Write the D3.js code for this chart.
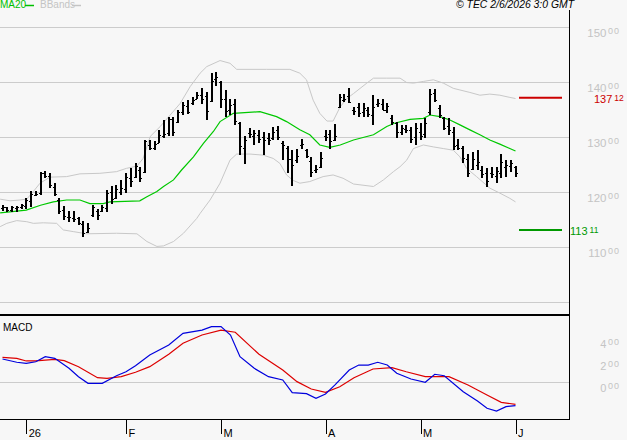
<!DOCTYPE html>
<html>
<head>
<meta charset="utf-8">
<script src="https://cdn.jsdelivr.net/npm/d3@7"></script>
<style>
  html, body { margin: 0; padding: 0; background: #f7f7f7; }
  svg { display: block; font-family: "Liberation Sans", Arial, sans-serif; }
</style>
</head>
<body>
<svg id="chart" width="627" height="440"></svg>
<script>
// ─── Data ─────────────────────────────────────────
// daily bars, 23 Dec 2025 .. 1 Jun 2026 (index = trading day)
const opens = [
  117.0, 117.2, 116.8, 117.0, 117.2, 117.5, 118.4, 119.5, 119.8, 123.5,
  123.0, 121.0, 118.6, 116.8, 115.4, 115.2, 115.2, 114.2, 112.8, 115.8,
  116.6, 116.5, 117.0, 120.0, 119.0, 120.0, 120.5, 122.5, 122.8, 124.0,
  123.6, 128.6, 128.0, 129.0, 130.2, 130.8, 133.2, 132.8, 134.5, 135.6,
  136.2, 137.0, 137.6, 137.5, 136.5, 140.5, 140.0, 137.0, 135.0, 136.0,
  132.5, 128.0, 130.8, 130.2, 130.4, 130.0, 129.8, 129.8, 131.2, 129.0,
  128.0, 126.0, 125.8, 128.5, 127.6, 125.6, 124.0, 124.6, 130.2, 130.5,
  129.5, 135.5, 136.8, 137.5, 135.0, 135.5, 134.5, 135.0, 134.0, 136.0,
  136.0, 135.0, 133.5, 132.5, 131.0, 131.5, 131.2, 130.0, 131.0, 130.5,
  134.5, 138.0, 135.2, 133.4, 132.0, 131.0, 128.5, 128.0, 126.0, 124.2,
  125.0, 124.0, 123.5, 123.5, 123.0, 123.5, 124.5, 124.8, 124.5
];
const highs = [
  117.6, 117.3, 117.5, 117.5, 117.9, 118.9, 120.1, 120.2, 123.7, 123.9,
  123.5, 121.7, 118.9, 117.5, 116.6, 116.6, 115.5, 114.7, 114.4, 117.6,
  117.0, 117.6, 120.4, 121.1, 121.3, 122.1, 123.4, 124.3, 125.3, 124.6,
  129.5, 129.5, 129.2, 131.3, 133.1, 133.7, 133.7, 135.0, 136.4, 136.7,
  137.2, 138.2, 139.0, 138.2, 141.6, 141.9, 140.2, 138.6, 137.0, 137.0,
  132.8, 130.1, 131.6, 131.2, 131.2, 131.0, 130.8, 131.8, 132.0, 129.2,
  128.4, 127.6, 127.8, 129.6, 127.9, 126.4, 124.9, 127.2, 131.2, 131.3,
  132.4, 137.8, 137.8, 139.0, 135.4, 136.2, 136.1, 135.5, 137.6, 136.9,
  136.9, 136.2, 134.0, 132.8, 132.2, 132.2, 131.8, 132.5, 132.5, 133.4,
  138.7, 138.7, 135.8, 133.7, 133.4, 131.9, 129.6, 128.4, 127.0, 127.2,
  127.6, 124.7, 124.3, 124.6, 124.6, 127.0, 125.9, 125.8, 124.7
];
const lows = [
  116.6, 116.4, 116.4, 116.4, 116.9, 117.0, 117.3, 119.2, 119.5, 122.5,
  120.7, 119.2, 116.0, 114.9, 114.6, 114.5, 114.0, 111.8, 112.5, 115.5,
  115.0, 116.4, 116.4, 117.9, 118.7, 119.5, 119.8, 121.0, 122.5, 121.9,
  123.4, 127.6, 127.6, 128.9, 129.8, 130.1, 130.2, 132.6, 134.0, 134.2,
  135.9, 136.9, 136.0, 133.1, 136.4, 139.2, 135.2, 133.7, 134.0, 132.2,
  126.7, 125.1, 129.9, 128.6, 128.9, 126.7, 128.6, 129.5, 129.5, 125.8,
  123.4, 121.1, 125.3, 127.9, 126.1, 122.8, 123.5, 124.3, 129.3, 127.9,
  129.2, 135.2, 136.4, 136.1, 134.0, 133.7, 133.7, 133.7, 132.2, 135.5,
  134.9, 134.3, 132.2, 129.9, 130.4, 130.7, 129.0, 128.5, 129.5, 129.8,
  134.0, 136.4, 133.4, 131.3, 130.4, 127.6, 127.6, 125.2, 122.8, 124.0,
  124.0, 122.5, 121.0, 122.5, 121.6, 122.5, 122.7, 123.7, 122.7
];
const closes = [
  117.3, 116.8, 117.2, 117.3, 117.6, 118.6, 119.6, 119.6, 123.4, 123.0,
  121.2, 119.6, 116.5, 115.6, 115.4, 115.0, 114.3, 112.6, 113.4, 117.2,
  115.8, 117.2, 119.9, 118.8, 120.5, 120.8, 122.8, 122.0, 124.8, 122.6,
  129.2, 128.0, 128.8, 130.4, 130.6, 133.2, 131.0, 134.6, 135.8, 134.6,
  136.8, 137.6, 137.0, 134.8, 140.2, 141.0, 137.0, 134.8, 135.8, 133.0,
  128.4, 129.5, 130.5, 130.8, 129.6, 129.4, 129.4, 131.0, 130.0, 128.5,
  126.0, 125.0, 126.6, 128.8, 126.6, 123.6, 124.2, 126.2, 130.0, 129.3,
  130.2, 137.2, 137.0, 136.4, 134.8, 134.4, 135.3, 134.2, 135.5, 136.2,
  135.0, 135.6, 132.8, 131.0, 131.6, 131.2, 129.6, 131.6, 130.2, 132.5,
  137.8, 136.8, 134.0, 131.6, 131.2, 128.4, 128.0, 126.2, 123.5, 126.0,
  125.4, 123.2, 122.0, 123.2, 123.8, 125.5, 125.0, 125.2, 123.5
];

// indicator traces: [day index, value]
const ma20 = [
  [-0.5, 116.2], [5, 116.7], [8, 117.6], [10.7, 118.2], [13.5, 118.55], [16.3, 118.55],
  [18.4, 117.9], [21.2, 117.9], [22.6, 118.2], [28.9, 118.4], [30.4, 119.15], [32.5, 120.1],
  [33.9, 121.0], [36, 122.2], [37.7, 124.0], [40.2, 126.4], [42.3, 128.85], [44.4, 131.0],
  [45.8, 132.8], [48.6, 134.3], [54.2, 134.6], [57.7, 133.7], [59.8, 132.8], [62.6, 131.3],
  [64.7, 130.4], [66.8, 128.55], [68.9, 128.1], [71.1, 128.55], [73.9, 129.45], [78.1, 130.4],
  [80.9, 131.9], [82.5, 132.5], [85.8, 133.2], [88.6, 133.4], [90, 134.0], [92.1, 133.7],
  [94.2, 133.1], [96.3, 132.2], [98.4, 131.3], [100.5, 130.4], [102.6, 129.45], [104.7, 128.7],
  [106.8, 127.9], [108, 127.45]
];
const bbUpper = [
  [-0.5, 118.7], [1.6, 118.4], [3.7, 118.55], [5.1, 118.7], [6.5, 120.1], [7.9, 121.6],
  [10, 122.7], [13.5, 122.8], [16.3, 123.3], [20.5, 123.4], [24, 123.7], [26.1, 124.3],
  [28.3, 124.7], [29.6, 126.1], [31.1, 130.1], [33.2, 131.9], [35.3, 134.0], [37.4, 136.1],
  [39.5, 139.15], [41.6, 141.6], [43, 142.8], [45.8, 143.9], [47.9, 143.4], [49.3, 142.3],
  [55.6, 142.3], [60.5, 142.3], [62.6, 141.6], [64, 140.4], [65.4, 136.7], [66.8, 134.3],
  [68.3, 132.9], [69.6, 132.9], [71.1, 135.5], [72.5, 137.0], [73.9, 137.9], [76.7, 139.8],
  [78.1, 140.7], [80.9, 140.7], [83.7, 140.7], [85.1, 139.9], [86.5, 139.8], [88.6, 140.1],
  [90.7, 140.4], [92.8, 139.8], [94.9, 138.85], [96.3, 138.55], [98.4, 138.1], [100.5, 137.6],
  [102.6, 137.8], [104.7, 137.6], [106.8, 137.2], [108, 137.0]
];
const bbLower = [
  [-0.5, 113.7], [0.9, 114.3], [3, 114.8], [5.1, 114.6], [6.5, 114.3], [8.6, 114.4],
  [11.4, 114.3], [12.8, 113.1], [14.9, 112.8], [17.7, 112.4], [24, 112.5], [28.3, 112.4],
  [30.4, 111.0], [32.5, 110.1], [33.9, 110.2], [36, 111.0], [38.1, 112.5], [40.9, 115.2],
  [41.6, 116.1], [43.7, 118.55], [45.8, 121.6], [47.9, 125.8], [49.3, 126.9], [52.1, 126.9],
  [54.9, 126.7], [57, 126.1], [58.4, 125.2], [59.8, 123.1], [61.2, 122.1], [62.6, 121.6],
  [64.7, 121.9], [67.5, 122.8], [69.6, 123.1], [71.7, 122.5], [73.9, 121.45], [78.1, 121.0],
  [80.2, 122.2], [82.3, 123.7], [83.7, 124.6], [85.1, 125.8], [86.5, 127.9], [88.6, 128.55],
  [90.7, 128.2], [92.8, 127.9], [94.9, 127.6], [96.3, 126.4], [97.7, 124.3], [99.8, 122.8],
  [102.6, 120.7], [104.7, 119.8], [106.8, 118.85], [108, 118.2]
];
const macdLine = [
  [0, 2.12], [3, 1.82], [5, 1.73], [7, 1.87], [9, 2.33], [11, 2.18], [14, 1.27], [16, 0.51],
  [18, -0.09], [21, -0.09], [24, 0.60], [26, 0.96], [28, 1.51], [31, 2.48], [35, 3.39],
  [38, 4.45], [42, 4.75], [44, 5.06], [46, 5.06], [48, 4.30], [50, 2.33], [53, 1.27],
  [56, 0.51], [59, 0.21], [61, -0.94], [64, -1.03], [66, -1.46], [68, -1.06], [70, -0.24],
  [73, 1.12], [75, 1.57], [77, 1.57], [79, 1.82], [81, 1.57], [83, 0.82], [86, 0.30],
  [89, 0.0], [91, 0.73], [93, 0.60], [97, -0.85], [100, -1.70], [102, -2.36], [104, -2.61],
  [106, -2.21], [108, -2.12]
];
const macdSignal = [
  [0, 2.27], [3, 2.18], [5, 1.94], [7, 1.94], [11, 2.09], [13, 1.97], [16, 1.42], [20, 0.42],
  [22, 0.36], [25, 0.51], [28, 0.91], [31, 1.42], [35, 2.55], [38, 3.55], [42, 4.30],
  [46, 4.75], [49, 4.55], [54, 2.55], [59, 1.12], [62, 0.06], [65, -0.61], [68, -0.91],
  [71, -0.40], [74, 0.42], [78, 1.21], [82, 1.33], [85, 0.96], [89, 0.51], [91, 0.51],
  [94, 0.51], [98, -0.24], [102, -1.15], [105, -1.82], [108, -2.0]
];

const monthTicks = [5, 26, 46, 68, 88, 108];
const monthLabels = ['26', 'F', 'M', 'A', 'M', 'J'];
const priceGrid = [100, 110, 120, 130, 140, 150];
const priceLabels = [110, 120, 130, 140, 150];
const macdLabels = [0, 2, 4];
const resistance = 137.12;
const support = 113.11;

// ─── Layout ───────────────────────────────────────
const right = 569;
const svg = d3.select('#chart');

const x = d3.scaleLinear().domain([0, 108]).range([2.5, 515.5]);
const y = d3.scaleLinear().domain([100, 150]).range([302, 27]);
const ym = d3.scaleLinear().domain([0, 4]).range([382.3, 338.3]);

// "150.00" -> ['150', '00'], decimals drawn small and raised
function splitNum(v) {
  return v.toFixed(2).split('.');
}

// ─── Main panel ───────────────────────────────────
const grid = svg.append('g').attr('shape-rendering', 'crispEdges');
grid.selectAll('line').data(priceGrid).join('line')
  .attr('x1', 0).attr('x2', right)
  .attr('y1', d => Math.round(y(d)) + 0.5).attr('y2', d => Math.round(y(d)) + 0.5)
  .attr('stroke', '#cccccc');

priceLabels.forEach(function (v) {
  const p = splitNum(v);
  const t = svg.append('text')
    .attr('x', 620).attr('y', y(v) + 9.8)
    .attr('text-anchor', 'end')
    .attr('fill', '#c4c4c4');
  t.append('tspan').style('font-size', '11.5px').text(p[0]);
  t.append('tspan').attr('dy', -2.6).attr('dx', 1.5)
    .style('font-size', '9px').style('letter-spacing', '1px').text(p[1]);
});

const line = d3.line().x(d => x(d[0])).y(d => y(d[1]));

svg.append('path').datum(bbUpper).attr('d', line)
  .attr('fill', 'none').attr('stroke', '#c8c8c8').attr('stroke-width', 1);
svg.append('path').datum(bbLower).attr('d', line)
  .attr('fill', 'none').attr('stroke', '#c8c8c8').attr('stroke-width', 1);
svg.append('path').datum(ma20).attr('d', line)
  .attr('fill', 'none').attr('stroke', '#00c800').attr('stroke-width', 1.2);

// OHLC bars: left tick = open, right tick = close
const bars = svg.append('g').attr('stroke', '#000').attr('shape-rendering', 'crispEdges');
d3.range(closes.length).forEach(function (i) {
  const cx = Math.round(x(i));
  bars.append('line')
    .attr('x1', cx).attr('x2', cx)
    .attr('y1', y(highs[i])).attr('y2', y(lows[i]))
    .attr('stroke-width', 1.5);
  bars.append('line')
    .attr('x1', cx - 2).attr('x2', cx)
    .attr('y1', Math.round(y(opens[i]))).attr('y2', Math.round(y(opens[i])));
  bars.append('line')
    .attr('x1', cx).attr('x2', cx + 2)
    .attr('y1', Math.round(y(closes[i]))).attr('y2', Math.round(y(closes[i])));
});

// resistance / support
[[resistance, '#cc0000', 594], [support, '#009900', 570]].forEach(function (r) {
  svg.append('line')
    .attr('x1', 519).attr('x2', 562)
    .attr('y1', y(r[0])).attr('y2', y(r[0]))
    .attr('stroke', r[1]).attr('stroke-width', 2);
  const p = splitNum(r[0]);
  const t = svg.append('text')
    .attr('x', r[2]).attr('y', y(r[0]) + 5.4)
    .attr('fill', r[1]);
  t.append('tspan').style('font-size', '11px').text(p[0]);
  t.append('tspan').attr('dy', -1.8).attr('dx', 2).style('font-size', '8.5px').text(p[1]);
});

// legend + header
svg.append('text').attr('x', 0).attr('y', 8).attr('fill', '#00c000')
  .style('font-size', '10px').text('MA20');
svg.append('line').attr('x1', 25).attr('x2', 34).attr('y1', 5.5).attr('y2', 5.5)
  .attr('stroke', '#00c000').attr('stroke-width', 1.5);
svg.append('text').attr('x', 40).attr('y', 8).attr('fill', '#c4c4c4')
  .style('font-size', '10px').text('BBands');
svg.append('line').attr('x1', 72).attr('x2', 81).attr('y1', 5.5).attr('y2', 5.5)
  .attr('stroke', '#c4c4c4').attr('stroke-width', 1.5);
svg.append('text').attr('x', 574).attr('y', 8).attr('text-anchor', 'end')
  .attr('fill', '#000').style('font-size', '10.4px').style('font-style', 'italic')
  .text('\u00a9 TEC 2/6/2026 3:0 GMT');

// ─── MACD panel ───────────────────────────────────
svg.append('line').attr('x1', 0).attr('x2', right)
  .attr('y1', 382.5).attr('y2', 382.5)
  .attr('stroke', '#cccccc').attr('shape-rendering', 'crispEdges');

macdLabels.forEach(function (v) {
  const p = splitNum(v);
  const t = svg.append('text')
    .attr('x', 620).attr('y', ym(v) + 9.4)
    .attr('text-anchor', 'end')
    .attr('fill', '#c4c4c4');
  t.append('tspan').style('font-size', '11px').text(p[0]);
  t.append('tspan').attr('dy', -2.4).attr('dx', 1.5)
    .style('font-size', '9px').style('letter-spacing', '1px').text(p[1]);
});

const mline = d3.line().x(d => x(d[0])).y(d => ym(d[1]));
svg.append('path').datum(macdSignal).attr('d', mline)
  .attr('fill', 'none').attr('stroke', '#dd0000').attr('stroke-width', 1.2);
svg.append('path').datum(macdLine).attr('d', mline)
  .attr('fill', 'none').attr('stroke', '#0000dd').attr('stroke-width', 1.2);

svg.append('text').attr('x', 3).attr('y', 331).attr('fill', '#000')
  .style('font-size', '10px').text('MACD');

// ─── Frame ────────────────────────────────────────
const frame = svg.append('g').attr('stroke', '#000').attr('shape-rendering', 'crispEdges');
frame.append('line').attr('x1', right + 0.5).attr('x2', right + 0.5).attr('y1', 10).attr('y2', 420);
frame.append('line').attr('x1', 0).attr('x2', right).attr('y1', 315).attr('y2', 315).attr('stroke-width', 2);

// ─── X axis ───────────────────────────────────────
const xAxis = d3.axisBottom(x)
  .tickValues(monthTicks)
  .tickFormat((d, i) => monthLabels[i])
  .tickSize(14)
  .tickPadding(0);

const gx = svg.append('g')
  .attr('transform', 'translate(0, 419.5)')
  .attr('shape-rendering', 'crispEdges')
  .call(xAxis);
gx.select('.domain').attr('d', 'M0,0H' + (right + 0.5)).attr('stroke', '#000');
gx.selectAll('.tick line').attr('stroke', '#000');
gx.selectAll('.tick text')
  .attr('text-anchor', 'start')
  .attr('x', 2).attr('y', 17.5).attr('dy', 0)
  .attr('fill', '#000')
  .style('font-family', '"Liberation Sans", Arial, sans-serif')
  .style('font-size', '11px');
</script>
</body>
</html>
